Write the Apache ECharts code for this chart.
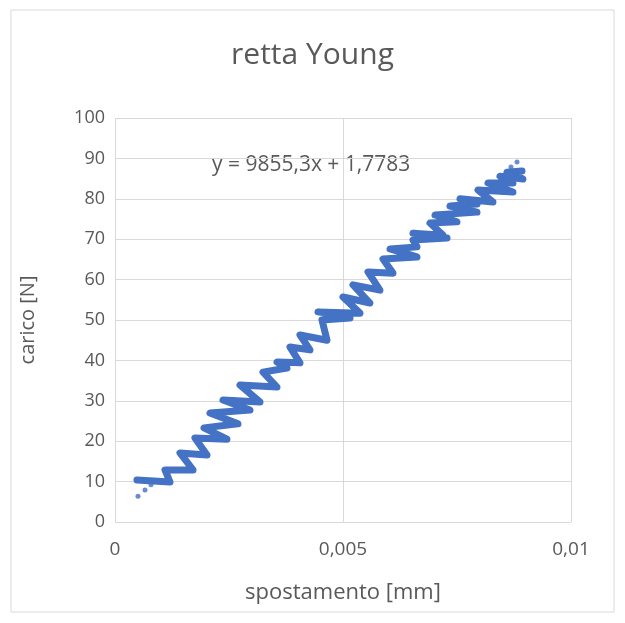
<!DOCTYPE html>
<html>
<head>
<meta charset="utf-8">
<script src="https://cdn.jsdelivr.net/npm/echarts@6/dist/echarts.min.js"></script>
<style>
  html, body { margin: 0; padding: 0; background: #fff; }
  #chart { width: 625px; height: 623px; }
</style>
</head>
<body>
<div id="chart"></div>
<script>
// spostamento [mm] / carico [N], traced along the band (left end, right end of each stroke)
const spostamento = [
  0.000482, 0.001206, 0.001096, 0.001711, 0.001425, 0.002018, 0.001754, 0.002456,
  0.001952, 0.002697, 0.002083, 0.002961, 0.002368, 0.003180, 0.002741, 0.003553,
  0.003246, 0.003772, 0.003553, 0.004057, 0.003838, 0.004276, 0.004057, 0.004649,
  0.004539, 0.005154, 0.004452, 0.005373, 0.005000, 0.005592, 0.005219, 0.005811,
  0.005548, 0.006096, 0.005877, 0.006623, 0.006031, 0.006623, 0.006535, 0.007281,
  0.006535, 0.007193, 0.006908, 0.007500, 0.007018, 0.007939, 0.007346, 0.007939,
  0.007566, 0.008289, 0.007961, 0.008728, 0.008180, 0.008728, 0.008443, 0.008947,
  0.008596, 0.008925
];
const carico = [
  10.4, 9.9, 12.9, 12.9, 17.1, 16.6, 20.8, 20.5,
  23.3, 24.3, 27.0, 27.7, 30.2, 29.7, 33.9, 33.4,
  37.1, 38.1, 39.6, 39.4, 43.3, 42.6, 46.3, 45.0,
  50.0, 50.5, 52.0, 51.7, 55.7, 54.2, 58.7, 57.4,
  61.9, 61.6, 65.1, 65.6, 67.6, 68.1, 69.8, 70.3,
  71.5, 71.0, 74.0, 74.3, 76.0, 76.7, 78.2, 78.7,
  80.0, 79.2, 82.2, 81.7, 83.9, 83.9, 85.6, 84.9,
  86.6, 86.9
];
// isolated points at both ends
const puntiX = [0.000504, 0.000658, 0.000789, 0.008684, 0.008816];
const puntiY = [6.4, 7.9, 9.2, 87.9, 89.1];

const xTicks = [0, 0.005, 0.01];
const equazione = "y = 9855,3x + 1,7783";

const font = "'Open Sans', 'Noto Sans', sans-serif";
const grigio = "#595959";
const blu = "#4472C4";

const chart = echarts.init(document.getElementById("chart"));
chart.setOption({
  animation: false,
  title: {
    text: "retta Young",
    left: "center",
    top: 35,
    textStyle: { fontFamily: font, fontSize: 30, fontWeight: "normal", color: grigio },
  },
  grid: { left: 115, right: 54, top: 118, bottom: 101 },
  xAxis: {
    type: "value",
    min: xTicks[0],
    max: xTicks[xTicks.length - 1],
    interval: xTicks[1] - xTicks[0],
    name: "spostamento [mm]",
    nameLocation: "middle",
    nameGap: 60,
    nameTextStyle: { fontFamily: font, fontSize: 22, color: grigio },
    axisLine: { show: false },
    axisTick: { show: false },
    axisLabel: {
      margin: 18,
      fontFamily: font,
      fontSize: 19,
      color: grigio,
      formatter: (v) => String(v).replace(".", ","),
    },
    splitLine: { lineStyle: { color: "#d9d9d9", width: 1 } },
  },
  yAxis: {
    type: "value",
    min: 0,
    max: 100,
    interval: 10,
    name: "carico [N]",
    nameLocation: "middle",
    nameGap: 77,
    nameTextStyle: { fontFamily: font, fontSize: 20, color: grigio },
    axisLine: { show: false },
    axisTick: { show: false },
    axisLabel: { margin: 10, fontFamily: font, fontSize: 18, color: grigio },
    splitLine: { lineStyle: { color: "#d9d9d9", width: 1 } },
  },
  graphic: [
    {
      type: "rect",
      shape: { x: 11, y: 10, width: 603, height: 602 },
      style: { fill: null, stroke: "#d9d9d9", lineWidth: 1 },
      silent: true,
    },
    {
      type: "text",
      left: 212,
      top: 155,
      style: { text: equazione, fontFamily: font, fontSize: 21, fill: grigio },
      silent: true,
    },
  ],
  series: [
    {
      type: "line",
      data: spostamento.map((x, i) => [x, carico[i]]),
      showSymbol: false,
      lineStyle: { color: blu, width: 7, cap: "round", join: "round" },
      silent: true,
    },
    {
      type: "scatter",
      data: puntiX.map((x, i) => [x, puntiY[i]]),
      symbolSize: 5,
      itemStyle: { color: blu },
      silent: true,
    },
  ],
});
</script>
</body>
</html>
